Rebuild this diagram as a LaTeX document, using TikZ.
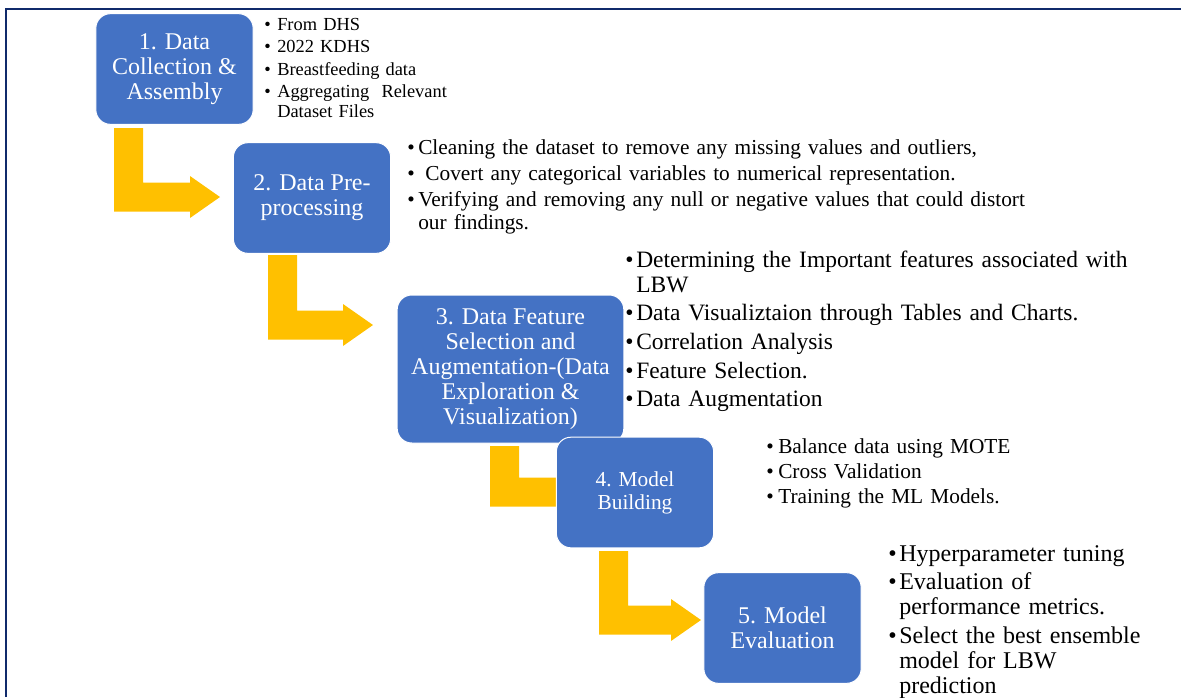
\documentclass[tikz,border=0pt]{standalone}
\usepackage{tikz}
\usepackage{xcolor}
\usepackage{fontspec}
\setmainfont{Liberation Serif}

% one bullet point with a hanging indent
\newlength{\bind}
\newcommand{\bitem}[1]{\hangindent=\bind\hangafter=1\noindent\makebox[\bind][l]{\textbullet}#1\par}

\begin{document}
\begin{tikzpicture}[x=0.75pt,y=-0.75pt,
  mybox/.style={rectangle,rounded corners=11pt,fill=boxblue,draw=white,line width=0.75pt,
    text=white,align=center,inner sep=0pt,minimum width=118pt,minimum height=83pt,
    font=\fontsize{18}{18.75}\selectfont},
  mylist/.style n args={4}{anchor=base west,inner sep=0pt,text width=600pt,align=left,
    font=\fontsize{#1}{#2}\selectfont,
    execute at begin node={\setlength{\parskip}{#3pt}\setlength{\bind}{#4pt}}},
  myarrow/.style={fill=arrowyellow}]
\definecolor{boxblue}{HTML}{4472C4}
\definecolor{arrowyellow}{HTML}{FFC000}
\definecolor{framenavy}{HTML}{102A6B}
\useasboundingbox (0,0) rectangle (1181,697);

% frame
\draw[framenavy,line width=1.6pt] (6,697) -- (6,9) -- (1181,9);

% bent arrows between the steps
\foreach \ax/\ay/\tx/\ty in {114/128/220/197, 268/255/373/325, 490/446/600/492, 599/551/701/620}
{ \fill[myarrow] (\ax,\ay) -- (\ax+29,\ay) -- (\ax+29,\ty-14.5) -- (\tx-30,\ty-14.5) -- (\tx-30,\ty-21)
    -- (\tx,\ty) -- (\tx-30,\ty+21) -- (\tx-30,\ty+14.5) -- (\ax,\ty+14.5) -- cycle;}

% steps
\node[mybox] (collect) at (174.5,69) {1. Data\\Collection \&\\Assembly};
\node[mybox] (prep) at (312,198) {2. Data Pre-\\processing};
\node[mybox,minimum width=170pt,minimum height=111pt] (feature) at (510.5,369)
  {3. Data Feature\\Selection and\\Augmentation-(Data\\Exploration \&\\Visualization)};
\node[mybox,font=\fontsize{16}{17.25}\selectfont] (build) at (635,492.5) {4. Model\\Building};
\node[mybox] (eval) at (782.5,628) {5. Model\\Evaluation};

% notes beside each step
\node[mylist={13.8}{15}{1.9}{9.75}] (collectnotes) at (264,30)
  {\bitem{From DHS}\bitem{2022 KDHS}\bitem{Breastfeeding data}
   \bitem{Aggregating\ \ Relevant\newline Dataset Files}};
\node[mylist={16}{17.25}{2.6}{8.25}] (prepnotes) at (407,154)
  {\bitem{Cleaning the dataset to remove any missing values and outliers,}
   \bitem{\ Covert any categorical variables to numerical representation.}
   \bitem{Verifying and removing any null or negative values that could distort\newline our findings.}};
\node[mylist={17.6}{18.75}{2.75}{8.25}] (featurenotes) at (625,267)
  {\bitem{Determining the Important features associated with\newline LBW}
   \bitem{Data Visualiztaion through Tables and Charts.}
   \bitem{Correlation Analysis}\bitem{Feature Selection.}\bitem{Data Augmentation}};
\node[mylist={16}{17.25}{1.5}{9}] (buildnotes) at (766,453)
  {\bitem{Balance data using MOTE}\bitem{Cross Validation}\bitem{Training the ML Models.}};
\node[mylist={18}{18.75}{2.8}{8.25}] (evalnotes) at (888,561)
  {\bitem{Hyperparameter tuning}\bitem{Evaluation of\newline performance metrics.}
   \bitem{Select the best ensemble\newline model for LBW\newline prediction}};
\end{tikzpicture}
\end{document}
